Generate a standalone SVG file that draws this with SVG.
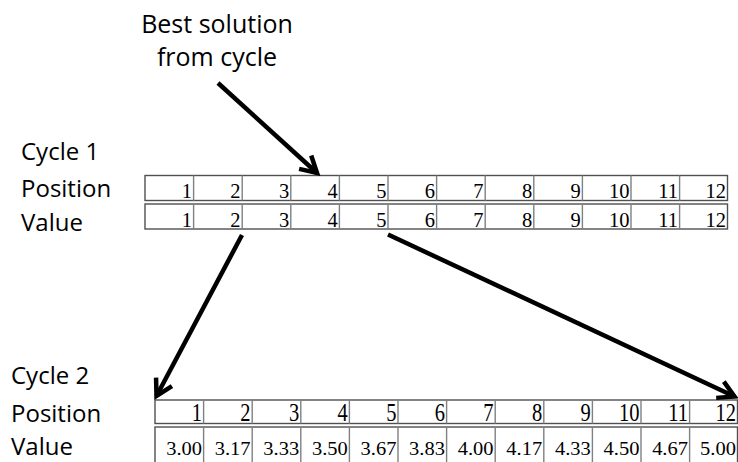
<svg xmlns="http://www.w3.org/2000/svg" width="738" height="462" viewBox="0 0 738 462">
<style>
.lbl{font-family:"Open Sans","Liberation Sans",sans-serif;font-size:24px;fill:#000}
.ttl{font-family:"Open Sans","Liberation Sans",sans-serif;font-size:25px;fill:#000;text-anchor:middle}
.num{font-family:"Liberation Serif","Times New Roman",serif;font-size:20.5px;fill:#000;text-anchor:end}
.row{fill:#fff;stroke:#505050;stroke-width:1.4}
.sep{stroke:#808080;stroke-width:1.4}
.arr{stroke:#000;stroke-width:4.5;fill:none;stroke-linecap:butt}
</style>
<defs>
<marker id="ah" markerUnits="userSpaceOnUse" markerWidth="40" markerHeight="40" viewBox="-20 -20 40 40" refX="0" refY="0" orient="auto">
<path d="M-16,-9 L0,0 L-16,9" fill="none" stroke="#000" stroke-width="4.5" stroke-linejoin="miter" stroke-miterlimit="10"/>
</marker>
</defs>
<rect width="738" height="462" fill="#fff"/>

<g id="title">
<text class="ttl" x="217" y="33">Best solution</text>
<text class="ttl" x="217" y="66">from cycle</text>
</g>

<g id="labels1">
<text class="lbl" x="21" y="160">Cycle 1</text>
<text class="lbl" x="21" y="197">Position</text>
<text class="lbl" x="21" y="231">Value</text>
</g>

<g id="labels2">
<text class="lbl" x="11" y="384">Cycle 2</text>
<text class="lbl" x="11" y="422">Position</text>
<text class="lbl" x="11" y="454.5">Value</text>
</g>

<g id="cycle1-position">
<rect class="row" x="145" y="175.5" width="582.5" height="25"/>
<path class="sep" d="M193.6,175.5V200.5M242.2,175.5V200.5M290.8,175.5V200.5M339.4,175.5V200.5M388,175.5V200.5M436.6,175.5V200.5M485.2,175.5V200.5M533.8,175.5V200.5M582.4,175.5V200.5M631,175.5V200.5M679.6,175.5V200.5"/>
<g transform="translate(0,198)">
<text class="num" x="192" y="0">1</text><text class="num" x="240.6" y="0">2</text><text class="num" x="289.2" y="0">3</text><text class="num" x="337.8" y="0">4</text><text class="num" x="386.4" y="0">5</text><text class="num" x="435" y="0">6</text><text class="num" x="483.6" y="0">7</text><text class="num" x="532.2" y="0">8</text><text class="num" x="580.8" y="0">9</text><text class="num" x="629.4" y="0">10</text><text class="num" x="678" y="0">11</text><text class="num" x="726" y="0">12</text>
</g>
</g>

<g id="cycle1-value">
<rect class="row" x="145" y="204" width="582.5" height="25"/>
<path class="sep" d="M193.6,204V229M242.2,204V229M290.8,204V229M339.4,204V229M388,204V229M436.6,204V229M485.2,204V229M533.8,204V229M582.4,204V229M631,204V229M679.6,204V229"/>
<g transform="translate(0,226.5)">
<text class="num" x="192" y="0">1</text><text class="num" x="240.6" y="0">2</text><text class="num" x="289.2" y="0">3</text><text class="num" x="337.8" y="0">4</text><text class="num" x="386.4" y="0">5</text><text class="num" x="435" y="0">6</text><text class="num" x="483.6" y="0">7</text><text class="num" x="532.2" y="0">8</text><text class="num" x="580.8" y="0">9</text><text class="num" x="629.4" y="0">10</text><text class="num" x="678" y="0">11</text><text class="num" x="726" y="0">12</text>
</g>
</g>

<g id="cycle2-position">
<rect class="row" x="155" y="400" width="582.5" height="23.5"/>
<path class="sep" d="M203.6,400V423.5M252.2,400V423.5M300.8,400V423.5M349.4,400V423.5M398,400V423.5M446.6,400V423.5M495.2,400V423.5M543.8,400V423.5M592.4,400V423.5M641,400V423.5M689.6,400V423.5"/>
<g transform="translate(0,420.5) scale(1,1.2)">
<text class="num" x="202" y="0">1</text><text class="num" x="250.6" y="0">2</text><text class="num" x="299.2" y="0">3</text><text class="num" x="347.8" y="0">4</text><text class="num" x="396.4" y="0">5</text><text class="num" x="445" y="0">6</text><text class="num" x="493.6" y="0">7</text><text class="num" x="542.2" y="0">8</text><text class="num" x="590.8" y="0">9</text><text class="num" x="639.4" y="0">10</text><text class="num" x="688" y="0">11</text><text class="num" x="736" y="0">12</text>
</g>
</g>

<g id="cycle2-value">
<rect class="row" x="155" y="427" width="582.5" height="36"/>
<path class="sep" d="M203.6,427V462M252.2,427V462M300.8,427V462M349.4,427V462M398,427V462M446.6,427V462M495.2,427V462M543.8,427V462M592.4,427V462M641,427V462M689.6,427V462"/>
<g transform="translate(0,454.5) scale(1,0.88)">
<text class="num" x="202" y="0">3.00</text><text class="num" x="250.6" y="0">3.17</text><text class="num" x="299.2" y="0">3.33</text><text class="num" x="347.8" y="0">3.50</text><text class="num" x="396.4" y="0">3.67</text><text class="num" x="445" y="0">3.83</text><text class="num" x="493.6" y="0">4.00</text><text class="num" x="542.2" y="0">4.17</text><text class="num" x="590.8" y="0">4.33</text><text class="num" x="639.4" y="0">4.50</text><text class="num" x="688" y="0">4.67</text><text class="num" x="736" y="0">5.00</text>
</g>
</g>

<g id="connectors">
<path class="arr" d="M218,83 L317,173" marker-end="url(#ah)"/>
<path class="arr" d="M242,235 L156.5,396" marker-end="url(#ah)"/>
<path class="arr" d="M388,234.5 L734.5,396.5" marker-end="url(#ah)"/>
</g>
</svg>
